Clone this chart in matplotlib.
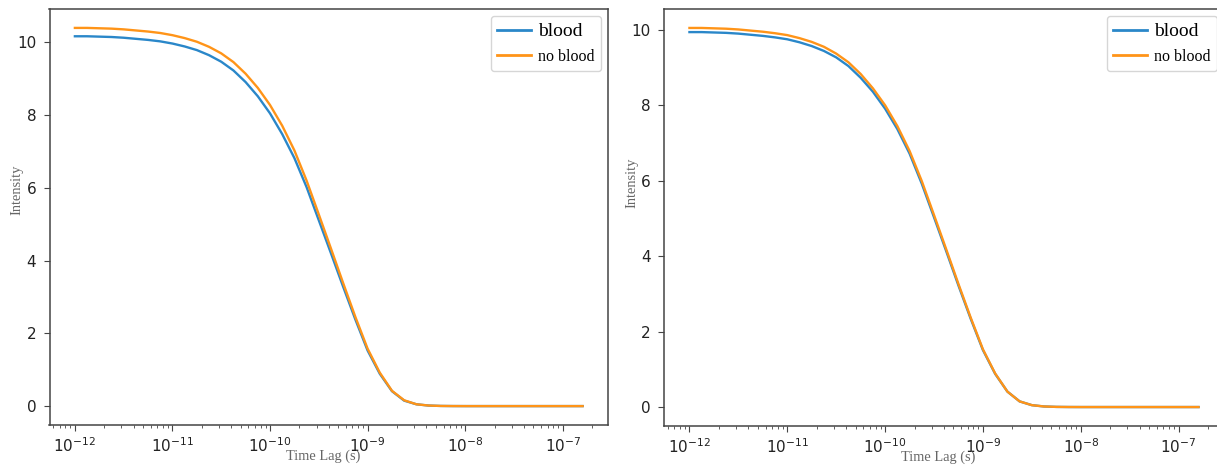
import matplotlib
matplotlib.use("Agg")
import matplotlib.pyplot as plt

# exponents of the time lag (s)
log_time = [-12.0, -11.875, -11.75, -11.625, -11.5, -11.375, -11.25, -11.125,
            -11.0, -10.875, -10.75, -10.625, -10.5, -10.375, -10.25, -10.125,
            -10.0, -9.875, -9.75, -9.625, -9.5, -9.375, -9.25, -9.125,
            -9.0, -8.875, -8.75, -8.625, -8.5, -8.375, -8.25, -8.125,
            -8.0, -7.5, -7.0, -6.796]
time_lag = [10 ** e for e in log_time]

left_blood = [10.17, 10.17, 10.16, 10.15, 10.13, 10.10, 10.07, 10.03,
              9.97, 9.89, 9.79, 9.65, 9.47, 9.23, 8.91, 8.52,
              8.05, 7.48, 6.82, 6.02, 5.11, 4.20, 3.28, 2.38,
              1.53, 0.89, 0.41, 0.15, 0.05, 0.015, 0.004, 0.001,
              0.0, 0.0, 0.0, 0.0]
left_no_blood = [10.40, 10.40, 10.39, 10.38, 10.36, 10.33, 10.30, 10.26,
                 10.20, 10.12, 10.02, 9.88, 9.70, 9.46, 9.14, 8.75,
                 8.28, 7.71, 7.03, 6.20, 5.27, 4.33, 3.38, 2.45,
                 1.58, 0.92, 0.42, 0.16, 0.05, 0.015, 0.004, 0.001,
                 0.0, 0.0, 0.0, 0.0]
right_blood = [9.94, 9.94, 9.93, 9.92, 9.90, 9.87, 9.84, 9.80,
               9.75, 9.67, 9.57, 9.44, 9.27, 9.04, 8.73, 8.36,
               7.91, 7.37, 6.72, 5.92, 5.03, 4.13, 3.22, 2.34,
               1.51, 0.88, 0.41, 0.15, 0.05, 0.015, 0.004, 0.001,
               0.0, 0.0, 0.0, 0.0]
right_no_blood = [10.05, 10.05, 10.04, 10.03, 10.01, 9.98, 9.95, 9.91,
                  9.86, 9.78, 9.68, 9.55, 9.37, 9.14, 8.83, 8.45,
                  8.00, 7.45, 6.79, 5.99, 5.09, 4.18, 3.26, 2.37,
                  1.53, 0.89, 0.41, 0.15, 0.05, 0.015, 0.004, 0.001,
                  0.0, 0.0, 0.0, 0.0]

series_labels = ["blood", "no blood"]
x_label = "Time Lag (s)"
y_label = "Intensity"

W, H = 1217, 466
fig = plt.figure(figsize=(W / 100, H / 100), dpi=100)

def make_axes(l, r, t, b):
    return fig.add_axes([l / W, 1 - b / H, (r - l) / W, (b - t) / H])

ax1 = make_axes(49.5, 608, 9, 425)
ax2 = make_axes(664, 1224, 9, 426)

blue = "#2a87c9"
orange = "#ff9418"
serif = ["Liberation Serif", "DejaVu Serif"]

panels = [
    (ax1, left_blood, left_no_blood, (-0.046, 0.565)),
    (ax2, right_blood, right_no_blood, (-0.045, 0.584)),
]

for ax, yb, yn, ylab_pos in panels:
    ax.plot(time_lag, yb, color=blue, lw=1.7, label=series_labels[0])
    ax.plot(time_lag, yn, color=orange, lw=1.7, label=series_labels[1])
    ax.set_xscale("log")
    ax.tick_params(labelsize=11, colors="#444444", labelcolor="#222222",
                   which="major", length=4.5)
    ax.tick_params(axis="y", pad=5)
    ax.tick_params(which="minor", length=2.2, colors="#444444")
    for s in ax.spines.values():
        s.set_color("#444444")
        s.set_linewidth(1.1)
    ax.set_xlabel(x_label, fontsize=10.4, family=serif, color="#666666")
    ax.set_ylabel(y_label, fontsize=10.4, family=serif, color="#666666")
    ax.xaxis.set_label_coords(0.49, -0.058)
    ax.yaxis.set_label_coords(*ylab_pos)
    leg = ax.legend(loc="upper right", prop={"family": serif, "size": 11.5},
                    handlelength=2.1, borderaxespad=0.45, labelspacing=0.55,
                    handletextpad=0.42, borderpad=0.42)
    leg.get_texts()[0].set_fontsize(14)
    for ln in leg.get_lines():
        ln.set_linewidth(2.0)

fig.savefig("out.png", dpi=100)
